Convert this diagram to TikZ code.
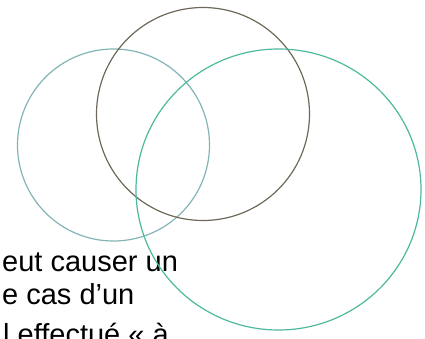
\documentclass[tikz,border=0pt]{standalone}
\usepackage{fontspec}
\setmainfont{Liberation Sans}
\definecolor{cleft}{HTML}{82B4B6}
\definecolor{cbrown}{HTML}{6E6858}
\definecolor{cright}{HTML}{4DB99C}
\begin{document}
\begin{tikzpicture}[x=1pt,y=-1pt,
  ring/.style={line width=1.2pt},
  txt/.style={anchor=base west,inner sep=0pt,font=\fontsize{29}{33}\selectfont}]
\useasboundingbox (0,0) rectangle (425,339);
\clip (0,0) rectangle (425,339);
\node[txt] (t1) at (2,271) {eut causer un};
\node[txt] (t2) at (2,304) {e cas d’un};
\node[txt] (t3) at (3,344) {l effectué « à};
\draw[ring,cleft] (113.5,145) circle[radius=96];
\draw[ring,cbrown] (203,114) circle[radius=106.5];
\draw[ring,cright] (278.5,189.5) ellipse[x radius=142.5,y radius=140.5];
\end{tikzpicture}
\end{document}
